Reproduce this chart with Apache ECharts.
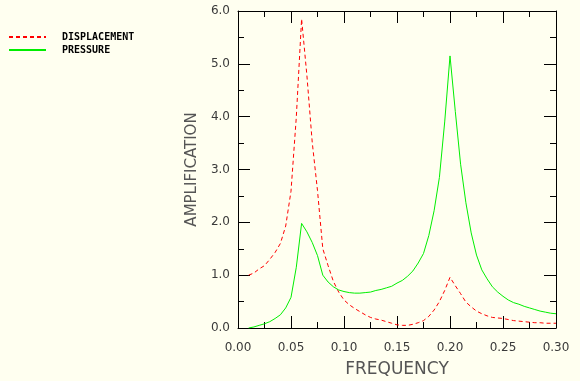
<!DOCTYPE html>
<html>
<head>
<meta charset="utf-8">
<script src="https://cdn.jsdelivr.net/npm/echarts@6/dist/echarts.min.js"></script>
<style>
  html, body { margin: 0; padding: 0; background: #fffff0; }
  #chart { width: 580px; height: 381px; }
</style>
</head>
<body>
<div id="chart"></div>
<script>
const frequency = [
  0.010, 0.015, 0.020, 0.025, 0.030, 0.035, 0.040, 0.045, 0.050, 0.055,
  0.060, 0.065, 0.070, 0.075, 0.080, 0.085, 0.090, 0.095, 0.100, 0.105,
  0.110, 0.115, 0.120, 0.125, 0.130, 0.135, 0.140, 0.145, 0.150, 0.155,
  0.160, 0.165, 0.170, 0.175, 0.180, 0.185, 0.190, 0.195, 0.200, 0.205,
  0.210, 0.215, 0.220, 0.225, 0.230, 0.235, 0.240, 0.245, 0.250, 0.255,
  0.260, 0.265, 0.270, 0.275, 0.280, 0.285, 0.290, 0.295, 0.300
];
const displacement = [
  1.00, 1.04, 1.12, 1.18, 1.30, 1.43, 1.60, 1.93, 2.59, 3.99,
  5.85, 4.78, 3.52, 2.60, 1.50, 1.18, 0.88, 0.68, 0.53, 0.44,
  0.37, 0.31, 0.25, 0.20, 0.17, 0.15, 0.12, 0.09, 0.06, 0.05,
  0.05, 0.07, 0.10, 0.14, 0.22, 0.34, 0.50, 0.71, 0.96, 0.80,
  0.65, 0.49, 0.40, 0.32, 0.27, 0.23, 0.20, 0.19, 0.18, 0.16,
  0.14, 0.13, 0.12, 0.11, 0.10, 0.10, 0.09, 0.09, 0.09
];
const pressure = [
  0.00, 0.02, 0.05, 0.08, 0.12, 0.18, 0.25, 0.38, 0.58, 1.15,
  1.98, 1.82, 1.62, 1.37, 1.00, 0.87, 0.78, 0.72, 0.69, 0.67,
  0.66, 0.66, 0.67, 0.68, 0.71, 0.73, 0.76, 0.79, 0.85, 0.90,
  0.98, 1.08, 1.23, 1.41, 1.75, 2.22, 2.85, 3.90, 5.15, 4.10,
  3.10, 2.37, 1.80, 1.38, 1.10, 0.93, 0.78, 0.68, 0.60, 0.53,
  0.48, 0.45, 0.41, 0.38, 0.35, 0.32, 0.30, 0.28, 0.27
];
const seriesNames = ['DISPLACEMENT', 'PRESSURE'];
const xTickLabels = ['0.00', '0.05', '0.10', '0.15', '0.20', '0.25', '0.30'];
const yTickLabels = ['0.0', '1.0', '2.0', '3.0', '4.0', '5.0', '6.0'];

const chart = echarts.init(document.getElementById('chart'), null, { renderer: 'canvas' });

const tickFont = { fontFamily: 'DejaVu Sans', fontSize: 12, color: '#3a3a3a' };
const axisLine = { show: true, onZero: false, lineStyle: { color: '#000', width: 1 } };

function xAxisCfg(pos, showLabels) {
  return {
    type: 'value', position: pos, min: 0, max: 0.3, interval: 0.05,
    axisLine: axisLine,
    axisTick: { show: true, inside: true, length: 12, lineStyle: { color: '#000', width: 1 } },
    minorTick: { show: true, splitNumber: 2, length: 6, lineStyle: { color: '#000', width: 1 } },
    splitLine: { show: false },
    axisLabel: showLabels ? Object.assign({
      show: true, margin: 14,
      formatter: function (v) { return xTickLabels[Math.round(v / 0.05)]; }
    }, tickFont) : { show: false },
    name: showLabels ? 'FREQUENCY' : '',
    nameLocation: 'middle', nameGap: 33,
    nameTextStyle: { fontFamily: 'DejaVu Sans', fontSize: 17, color: '#555' }
  };
}
function yAxisCfg(pos, showLabels) {
  return {
    type: 'value', position: pos, min: 0, max: 6, interval: 1,
    axisLine: axisLine,
    axisTick: { show: true, inside: true, length: 12, lineStyle: { color: '#000', width: 1 } },
    minorTick: { show: true, splitNumber: 2, length: 6, lineStyle: { color: '#000', width: 1 } },
    splitLine: { show: false },
    axisLabel: showLabels ? Object.assign({
      show: true, margin: 8,
      formatter: function (v) { return yTickLabels[Math.round(v)]; }
    }, tickFont) : { show: false },
    name: showLabels ? 'AMPLIFICATION' : '',
    nameLocation: 'middle', nameGap: 32,
    nameTextStyle: { fontFamily: 'DejaVu Sans', fontSize: 15, color: '#555' }
  };
}

chart.setOption({
  backgroundColor: '#fffff0',
  animation: false,
  grid: { left: 238, right: 24, top: 11, bottom: 53, containLabel: false, outerBoundsMode: 'none' },
  legend: {
    show: true, orient: 'vertical', left: 8, top: 32, padding: 0,
    itemWidth: 37, itemHeight: 10, itemGap: 3,
    data: seriesNames,
    itemStyle: { opacity: 0 },
    textStyle: { fontFamily: 'DejaVu Sans Mono', fontWeight: 'bold', fontSize: 10, color: '#000', padding: [0, 0, 0, 11] }
  },
  xAxis: [xAxisCfg('bottom', true), xAxisCfg('top', false)],
  yAxis: [yAxisCfg('left', true), yAxisCfg('right', false)],
  series: [
    {
      name: seriesNames[0], type: 'line', xAxisIndex: 0, yAxisIndex: 0,
      symbol: 'none', smooth: false,
      lineStyle: { color: '#ff0000', width: 1, type: [4, 3] },
      itemStyle: { color: '#ff0000' },
      data: frequency.map((f, i) => [f, displacement[i]])
    },
    {
      name: seriesNames[1], type: 'line', xAxisIndex: 0, yAxisIndex: 0,
      symbol: 'none', smooth: false,
      lineStyle: { color: '#00ee00', width: 1, type: 'solid' },
      itemStyle: { color: '#00ee00' },
      data: frequency.map((f, i) => [f, pressure[i]])
    }
  ]
});
</script>
</body>
</html>
